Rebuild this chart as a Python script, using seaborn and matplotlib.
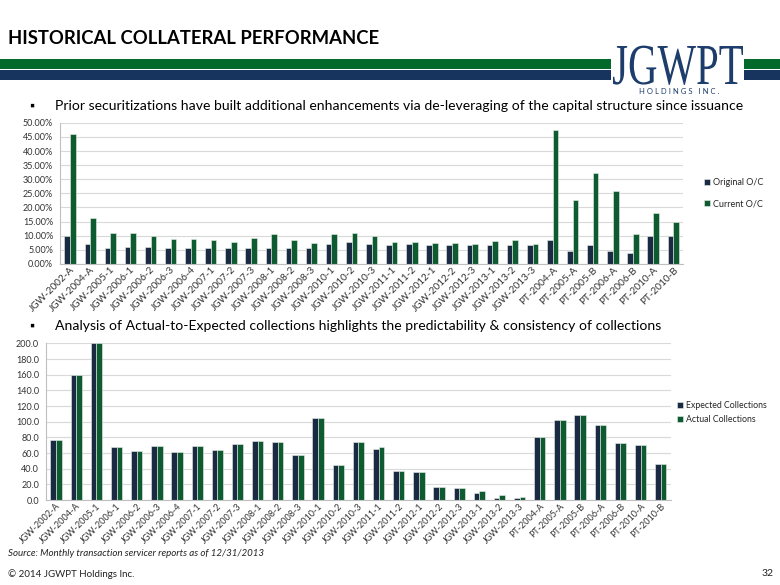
import numpy as np
import pandas as pd
import matplotlib
matplotlib.use('Agg')
import matplotlib.pyplot as plt
import seaborn as sns
from matplotlib.patches import Rectangle, PathPatch
from matplotlib.textpath import TextPath
from matplotlib.font_manager import FontProperties
from matplotlib.transforms import Affine2D
from matplotlib.ticker import FuncFormatter, MultipleLocator

deals = ['JGW-2002-A', 'JGW-2004-A', 'JGW-2005-1', 'JGW-2006-1', 'JGW-2006-2',
         'JGW-2006-3', 'JGW-2006-4', 'JGW-2007-1', 'JGW-2007-2', 'JGW-2007-3',
         'JGW-2008-1', 'JGW-2008-2', 'JGW-2008-3', 'JGW-2010-1', 'JGW-2010-2',
         'JGW-2010-3', 'JGW-2011-1', 'JGW-2011-2', 'JGW-2012-1', 'JGW-2012-2',
         'JGW-2012-3', 'JGW-2013-1', 'JGW-2013-2', 'JGW-2013-3', 'PT-2004-A',
         'PT-2005-A', 'PT-2005-B', 'PT-2006-A', 'PT-2006-B', 'PT-2010-A',
         'PT-2010-B']

# overcollateralization, in percent
original_oc = [10.0, 7.1, 5.6, 5.9, 5.9, 5.6, 5.6, 5.6, 5.6, 5.6,
               5.6, 5.6, 5.6, 7.1, 7.8, 7.0, 6.6, 7.0, 6.6, 6.6,
               6.6, 6.6, 6.6, 6.6, 8.6, 4.7, 6.6, 4.4, 4.0, 10.0,
               9.8]
current_oc = [46.1, 16.2, 10.9, 10.9, 9.7, 8.9, 8.9, 8.6, 7.8, 9.1,
              10.5, 8.5, 7.5, 10.5, 10.9, 10.0, 7.8, 7.9, 7.5, 7.3,
              7.2, 8.2, 8.3, 6.9, 47.5, 22.5, 32.1, 25.8, 10.5, 17.9,
              14.7]

expected = [77.4, 159.8, 200.0, 67.2, 62.2, 68.5, 60.9, 69.3, 63.8, 71.9,
            76.1, 74.0, 57.1, 105.3, 45.2, 74.0, 65.5, 37.2, 36.4, 16.9,
            15.2, 9.3, 3.4, 2.5, 81.2, 102.3, 109.1, 96.4, 72.3, 69.8,
            46.5]
actual = [77.4, 159.8, 200.0, 67.2, 62.2, 68.5, 60.9, 69.3, 63.8, 71.9,
          76.1, 74.0, 57.1, 105.3, 45.2, 74.8, 67.2, 37.2, 36.4, 16.9,
          15.2, 12.3, 6.3, 3.8, 81.2, 102.3, 109.1, 96.4, 72.3, 70.6,
          46.5]

NAVY = '#13284a'
GREEN = '#02682f'
LOGO = '#1d3d6c'

sns.set_theme(style='white')
plt.rcParams['font.family'] = ['Lato', 'DejaVu Sans']

fig = plt.figure(figsize=(7.8, 5.85), dpi=100)

# slide decorations in pixel coordinates
bg = fig.add_axes([0, 0, 1, 1], zorder=0)
bg.set_xlim(0, 780)
bg.set_ylim(585, 0)
bg.axis('off')

for x0, x1 in [(0, 611), (744, 780)]:
    bg.add_patch(Rectangle((x0, 59), x1 - x0, 10, color='#046a2c', lw=0))
    bg.add_patch(Rectangle((x0, 70), x1 - x0, 9.5, color='#17345f', lw=0))

logo = TextPath((0, 0), 'JGWPT', size=1, prop=FontProperties(family='Liberation Serif'))
ext = logo.get_extents()
sx = 130 / ext.width
logo = Affine2D().translate(-ext.x0, 0).scale(sx, -58).translate(613, 84).transform_path(logo)
bg.add_patch(PathPatch(logo, color=LOGO, lw=0))
bg.text(679, 91, 'H O L D I N G S   I N C .', ha='center', va='center',
        fontsize=5.5, color=LOGO)

bg.text(8, 38, 'HISTORICAL COLLATERAL PERFORMANCE', fontsize=13.3,
        fontweight='bold', color='black', va='center', ha='left')

bg.text(29, 106, '\u25aa', fontsize=9, va='center', color='black')
bg.text(55, 106, 'Prior securitizations have built additional enhancements via '
        'de-leveraging of the capital structure since issuance',
        fontsize=10.1, va='center', color='black')
bg.text(29, 326, '\u25aa', fontsize=9, va='center', color='black')
bg.text(55, 326, 'Analysis of Actual-to-Expected collections highlights the '
        'predictability & consistency of collections',
        fontsize=10.1, va='center', color='black')

bg.text(8, 553, 'Source: Monthly transaction servicer reports as of 12/31/2013',
        fontsize=7, style='italic', va='center', color='#222222')
bg.text(8, 574, '\u00a9 2014 JGWPT Holdings Inc.', fontsize=7, va='center',
        color='#222222')
bg.text(774, 574, '32', fontsize=7.5, va='center', ha='right', color='#222222')


def style_axis(ax, n, xsize):
    ax.set_xlim(-0.5, n - 0.5)
    ax.set_xlabel('')
    ax.set_ylabel('')
    ax.grid(axis='y', color='#d9d9d9', lw=0.8)
    ax.set_axisbelow(True)
    for s in ['top', 'right']:
        ax.spines[s].set_visible(False)
    for s in ['left', 'bottom']:
        ax.spines[s].set_color('#bfbfbf')
        ax.spines[s].set_linewidth(0.8)
    ax.tick_params(axis='x', which='major', length=0, pad=1)
    ax.set_xticks(np.arange(n + 1) - 0.5, minor=True)
    ax.tick_params(axis='x', which='minor', length=3, color='#bfbfbf', width=0.8)
    ax.tick_params(axis='y', length=3, color='#bfbfbf', width=0.8, pad=2,
                   labelsize=6.5, labelcolor='#333333')
    plt.setp(ax.get_xticklabels(), rotation=45, ha='right',
             rotation_mode='anchor', fontsize=xsize, color='#333333')


# top chart: O/C
oc = pd.DataFrame({'deal': deals * 2,
                   'value': original_oc + current_oc,
                   'series': ['Original O/C'] * len(deals) + ['Current O/C'] * len(deals)})
ax1 = fig.add_axes([0.077, 0.549, 0.799, 0.241], zorder=1)
sns.barplot(data=oc, x='deal', y='value', hue='series', palette=[NAVY, GREEN],
            width=0.56, gap=0, edgecolor='#e8efe8', linewidth=0.4, ax=ax1)
ax1.set_ylim(0, 50)
ax1.yaxis.set_major_locator(MultipleLocator(5))
ax1.yaxis.set_major_formatter(FuncFormatter(lambda v, p: f'{v:.2f}%'))
style_axis(ax1, len(deals), 7.2)
ax1.legend(loc='center left', bbox_to_anchor=(1.02, 0.5), frameon=False,
           fontsize=6.5, handlelength=0.7, handleheight=0.7, handletextpad=0.3,
           labelspacing=1.3)

# bottom chart: collections
col = pd.DataFrame({'deal': deals * 2,
                    'value': expected + actual,
                    'series': ['Expected Collections'] * len(deals) + ['Actual Collections'] * len(deals)})
ax2 = fig.add_axes([0.059, 0.145, 0.801, 0.268], zorder=1)
sns.barplot(data=col, x='deal', y='value', hue='series', palette=[NAVY, GREEN],
            width=0.56, gap=0, edgecolor='#e8efe8', linewidth=0.4, ax=ax2)
ax2.set_ylim(0, 200)
ax2.yaxis.set_major_locator(MultipleLocator(20))
ax2.yaxis.set_major_formatter(FuncFormatter(lambda v, p: f'{v:.1f}'))
style_axis(ax2, len(deals), 6.5)
ax2.legend(loc='center left', bbox_to_anchor=(1.0, 0.56), frameon=False,
           fontsize=6.3, handlelength=0.7, handleheight=0.7, handletextpad=0.3,
           labelspacing=0.6, borderaxespad=0.3)

fig.savefig('out.png', dpi=100)
